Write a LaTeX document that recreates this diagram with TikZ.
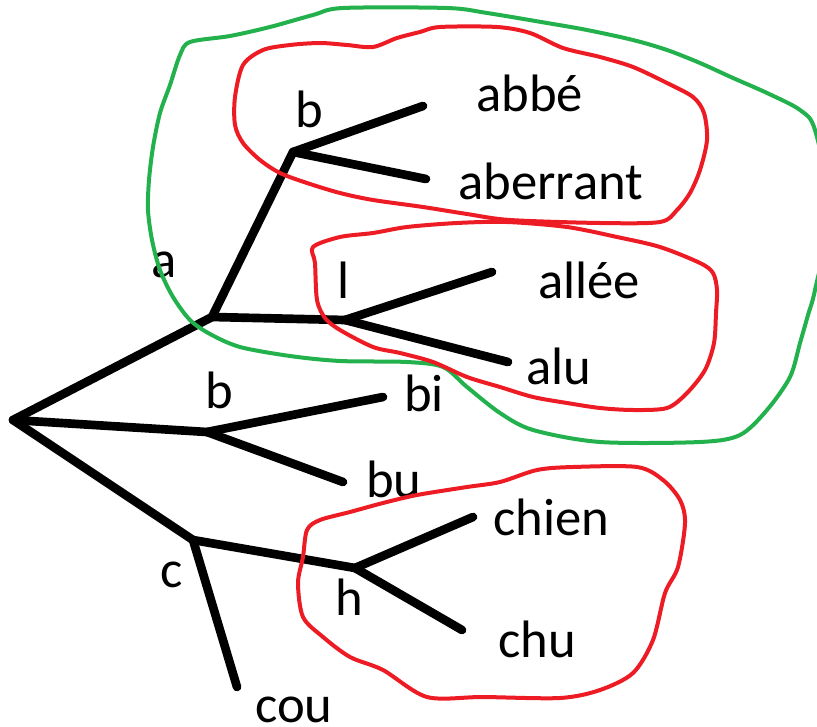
\documentclass[tikz,border=0pt]{standalone}
\usepackage{fontspec}
\setmainfont{Carlito}
\definecolor{pgreen}{RGB}{34,177,76}
\definecolor{pred}{RGB}{237,28,36}
\begin{document}
\begin{tikzpicture}[x=0.75pt,y=-0.75pt,
  branch/.style={line width=6.5pt, line cap=round, line join=round, black},
  grp/.style={line width=3pt, line join=round},
  lbl/.style={anchor=base west, inner sep=0pt, font=\fontsize{39.5}{42}\selectfont}]
\useasboundingbox (0,0) rectangle (817,727);
\clip (0,0) rectangle (817,727);
% junctions and leaf ends
\coordinate (root) at (13,420);
\coordinate (ja) at (212,317);
\coordinate (jb) at (293,152);
\coordinate (eabbe) at (423,106);
\coordinate (eaberr) at (426,179);
\coordinate (jl) at (345,320);
\coordinate (eallee) at (492,272);
\coordinate (ealu) at (508,362);
\coordinate (jb2) at (207,432);
\coordinate (ebi) at (383,397);
\coordinate (ebu) at (343,482);
\coordinate (jc) at (193,540);
\coordinate (jh) at (355,568);
\coordinate (echien) at (473,517);
\coordinate (echu) at (462,630);
\coordinate (ecou) at (237,687);
% branches
\draw[branch] (root) -- (ja);
\draw[branch] (ja) -- (jb);
\draw[branch] (jb) -- (eabbe);
\draw[branch] (jb) -- (eaberr);
\draw[branch] (ja) -- (jl);
\draw[branch] (jl) -- (eallee);
\draw[branch] (jl) -- (ealu);
\draw[branch] (root) -- (jb2);
\draw[branch] (jb2) -- (ebi);
\draw[branch] (jb2) -- (ebu);
\draw[branch] (root) -- (jc);
\draw[branch] (jc) -- (jh);
\draw[branch] (jh) -- (echien);
\draw[branch] (jh) -- (echu);
\draw[branch] (jc) -- (ecou);
% labels
\node[lbl] (tb1) at (295,128) {b};
\node[lbl] (tabbe) at (476,112) {abbé};
\node[lbl] (taberr) at (458,200) {aberrant};
\node[lbl] (ta) at (151,277) {a};
\node[lbl] (tl) at (337,298) {l};
\node[lbl] (tallee) at (538,298) {allée};
\node[lbl] (talu) at (526,384) {alu};
\node[lbl] (tb2) at (205,408) {b};
\node[lbl] (tbi) at (404,411) {bi};
\node[lbl] (tbu) at (366,497) {bu};
\node[lbl] (tchien) at (493,535) {chien};
\node[lbl] (tchu) at (498,657) {chu};
\node[lbl] (tc) at (160,587) {c};
\node[lbl] (th) at (335,615) {h};
\node[lbl] (tcou) at (255,722) {cou};
% green group
\draw[grp, pgreen] plot[smooth cycle, tension=0.5] coordinates {
 (190,42) (230,36) (270,27) (313,15) (343,8) (447,8) (487,13) (547,23) (587,30)
 (633,40) (667,50) (700,63) (733,78) (767,93) (800,110) (815,130) (830,210)
 (815,290) (808,315) (800,343) (790,377) (767,410) (740,435) (700,442) (600,442)
 (533,430) (500,413) (467,387) (443,367) (407,362) (340,361) (290,356) (240,347)
 (210,334) (190,320) (173,297) (160,270) (152,240) (148,210) (149,180) (153,147)
 (160,113) (170,85) (180,55)};
% red groups
\draw[grp, pred] plot[smooth cycle, tension=0.5] coordinates {
 (235,97) (243,65) (263,50) (290,45) (320,43) (347,45) (373,47) (397,38) (420,32)
 (440,27) (497,27) (530,33) (563,48) (600,57) (633,67) (667,83) (693,97) (704,113)
 (707,140) (700,170) (690,193) (677,210) (660,222) (600,223) (510,220) (467,214)
 (423,207) (373,200) (340,193) (307,183) (280,173) (260,160) (243,143) (235,125)};
\draw[grp, pred] plot[smooth cycle, tension=0.5] coordinates {
 (313,247) (340,237) (373,233) (407,227) (457,223) (507,222) (567,227) (617,237)
 (660,247) (700,263) (713,273) (717,290) (716,313) (714,343) (705,370) (687,393)
 (667,408) (633,410) (600,408) (567,403) (533,397) (500,387) (467,377) (433,362)
 (400,353) (373,347) (340,330) (325,318) (317,300) (315,263)};
\draw[grp, pred] plot[smooth cycle, tension=0.5] coordinates {
 (303,557) (307,530) (320,520) (350,512) (383,503) (417,495) (467,487) (500,482)
 (537,470) (573,467) (637,467) (663,480) (680,500) (685,523) (678,567) (665,593)
 (653,640) (633,673) (600,690) (560,698) (483,697) (427,697) (383,670) (350,657)
 (323,637) (303,617) (298,583)};
\end{tikzpicture}
\end{document}
